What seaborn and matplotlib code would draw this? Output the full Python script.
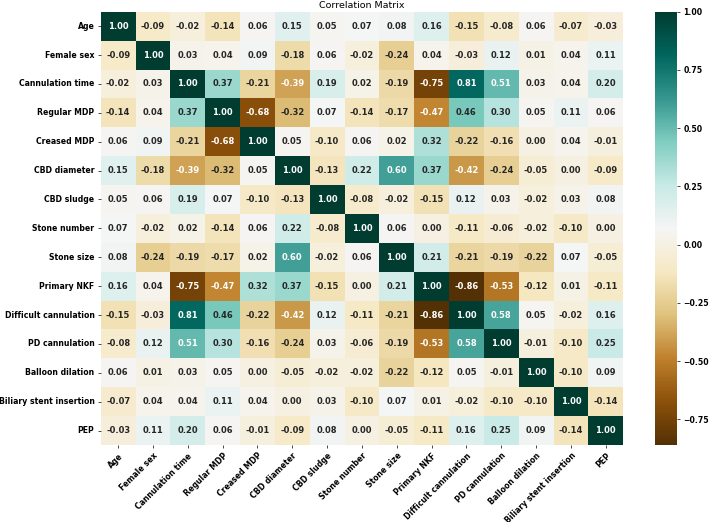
import numpy as np
import pandas as pd
import matplotlib.pyplot as plt
import seaborn as sns

# Variable names (rows and columns of the matrix)
labels = ['Age', 'Female sex', 'Cannulation time', 'Regular MDP', 'Creased MDP',
          'CBD diameter', 'CBD sludge', 'Stone number', 'Stone size', 'Primary NKF',
          'Difficult cannulation', 'PD cannulation', 'Balloon dilation',
          'Biliary stent insertion', 'PEP']

# Correlation values, one list per row
age = [1.00, -0.09, -0.02, -0.14, 0.06, 0.15, 0.05, 0.07, 0.08, 0.16, -0.15, -0.08, 0.06, -0.07, -0.03]
female_sex = [-0.09, 1.00, 0.03, 0.04, 0.09, -0.18, 0.06, -0.02, -0.24, 0.04, -0.03, 0.12, 0.01, 0.04, 0.11]
cannulation_time = [-0.02, 0.03, 1.00, 0.37, -0.21, -0.39, 0.19, 0.02, -0.19, -0.75, 0.81, 0.51, 0.03, 0.04, 0.20]
regular_mdp = [-0.14, 0.04, 0.37, 1.00, -0.68, -0.32, 0.07, -0.14, -0.17, -0.47, 0.46, 0.30, 0.05, 0.11, 0.06]
creased_mdp = [0.06, 0.09, -0.21, -0.68, 1.00, 0.05, -0.10, 0.06, 0.02, 0.32, -0.22, -0.16, 0.00, 0.04, -0.01]
cbd_diameter = [0.15, -0.18, -0.39, -0.32, 0.05, 1.00, -0.13, 0.22, 0.60, 0.37, -0.42, -0.24, -0.05, 0.00, -0.09]
cbd_sludge = [0.05, 0.06, 0.19, 0.07, -0.10, -0.13, 1.00, -0.08, -0.02, -0.15, 0.12, 0.03, -0.02, 0.03, 0.08]
stone_number = [0.07, -0.02, 0.02, -0.14, 0.06, 0.22, -0.08, 1.00, 0.06, 0.00, -0.11, -0.06, -0.02, -0.10, 0.00]
stone_size = [0.08, -0.24, -0.19, -0.17, 0.02, 0.60, -0.02, 0.06, 1.00, 0.21, -0.21, -0.19, -0.22, 0.07, -0.05]
primary_nkf = [0.16, 0.04, -0.75, -0.47, 0.32, 0.37, -0.15, 0.00, 0.21, 1.00, -0.86, -0.53, -0.12, 0.01, -0.11]
difficult_cannulation = [-0.15, -0.03, 0.81, 0.46, -0.22, -0.42, 0.12, -0.11, -0.21, -0.86, 1.00, 0.58, 0.05, -0.02, 0.16]
pd_cannulation = [-0.08, 0.12, 0.51, 0.30, -0.16, -0.24, 0.03, -0.06, -0.19, -0.53, 0.58, 1.00, -0.01, -0.10, 0.25]
balloon_dilation = [0.06, 0.01, 0.03, 0.05, 0.00, -0.05, -0.02, -0.02, -0.22, -0.12, 0.05, -0.01, 1.00, -0.10, 0.09]
biliary_stent = [-0.07, 0.04, 0.04, 0.11, 0.04, 0.00, 0.03, -0.10, 0.07, 0.01, -0.02, -0.10, -0.10, 1.00, -0.14]
pep = [-0.03, 0.11, 0.20, 0.06, -0.01, -0.09, 0.08, 0.00, -0.05, -0.11, 0.16, 0.25, 0.09, -0.14, 1.00]

rows = [age, female_sex, cannulation_time, regular_mdp, creased_mdp, cbd_diameter,
        cbd_sludge, stone_number, stone_size, primary_nkf, difficult_cannulation,
        pd_cannulation, balloon_dilation, biliary_stent, pep]
corr = pd.DataFrame(rows, index=labels, columns=labels)

fig = plt.figure(figsize=(7.09, 5.22), dpi=100)
ax = fig.add_axes([0.142, 0.1475, 0.737, 0.83])
cax = fig.add_axes([0.924, 0.1475, 0.031, 0.83])

sns.heatmap(corr, annot=True, fmt='.2f', cmap='BrBG', ax=ax, cbar_ax=cax,
            annot_kws={'fontsize': 6, 'fontweight': 'bold'})

ax.set_title('Correlation Matrix', fontsize=6.8, pad=3)
ax.set_xticklabels(ax.get_xticklabels(), rotation=45, ha='right',
                   rotation_mode='anchor', fontsize=5.6, fontweight='bold')
ax.set_yticklabels(ax.get_yticklabels(), rotation=0, fontsize=5.6, fontweight='bold')
ax.tick_params(length=2.5, width=0.5, pad=2)

cax.tick_params(labelsize=5.6, length=2.5, width=0.5, pad=2)
for t in cax.get_yticklabels():
    t.set_fontweight('bold')

plt.savefig('out.png', dpi=100)
plt.close()
